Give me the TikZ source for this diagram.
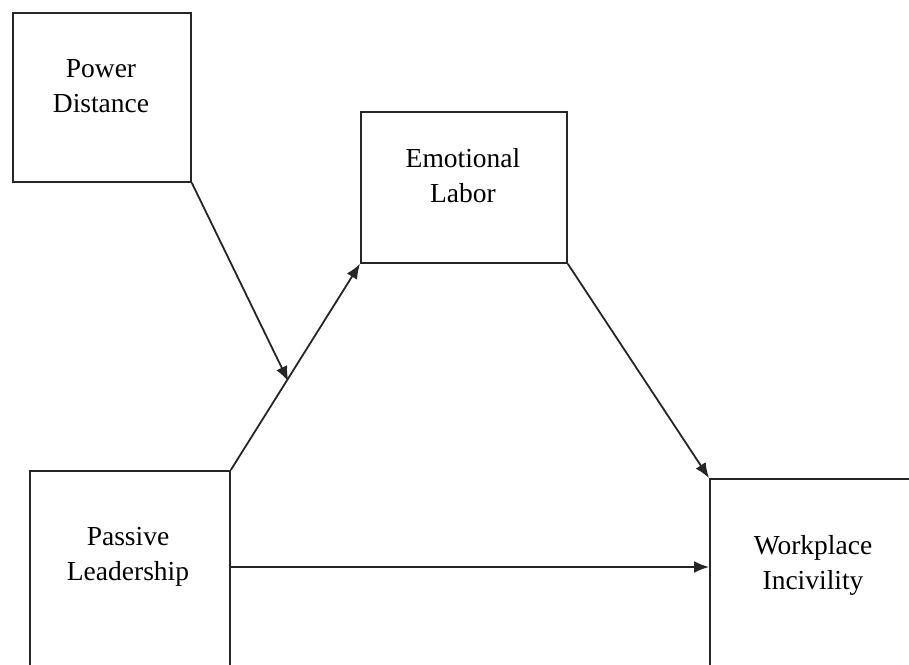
\documentclass[tikz,border=0pt]{standalone}
\usepackage{fontspec}
\setmainfont{Liberation Serif}
\usetikzlibrary{arrows.meta,calc}
\begin{document}
\begin{tikzpicture}[x=1pt,y=-1pt,
  box/.style={draw=black!85,line width=1.8pt,rectangle,inner sep=0pt,anchor=north west},
  lbl/.style={align=center,font=\fontsize{27.5pt}{35pt}\selectfont,inner sep=0pt},
  arr/.style={draw=black!85,line width=1.8pt,-{Latex[length=15pt,width=12pt]}}]
\useasboundingbox (0,0) rectangle (909,664);
\clip (0,0) rectangle (909,664);
\fill[white] (0,0) rectangle (909,664);
\node[box,minimum width=178pt,minimum height=169pt] (PD) at (12,12) {};
\node[box,minimum width=206pt,minimum height=151pt] (EL) at (360,111) {};
\node[box,minimum width=200pt,minimum height=230pt] (PL) at (29,470) {};
\node[box,minimum width=240pt,minimum height=230pt] (WI) at (709,478) {};
\node[lbl] (PDt) at (101,86) {Power\\Distance};
\node[lbl] (ELt) at (463,176) {Emotional\\Labor};
\node[lbl] (PLt) at (128,557) {Passive\\Leadership};
\node[lbl] (WIt) at (813,565) {Workplace\\Incivility};
\coordinate (pla) at ([yshift=-97pt]PL.north east);
\coordinate (mid) at ($(PL.north east)!0.43!(EL.south west)$);
\draw[arr] (PL.north east) -- (EL.south west);
\draw[arr] (PD.south east) -- ([xshift=2pt]mid);
\draw[arr] (EL.south east) -- (WI.north west);
\draw[arr] (pla) -- (pla -| WI.west);
\end{tikzpicture}
\end{document}
